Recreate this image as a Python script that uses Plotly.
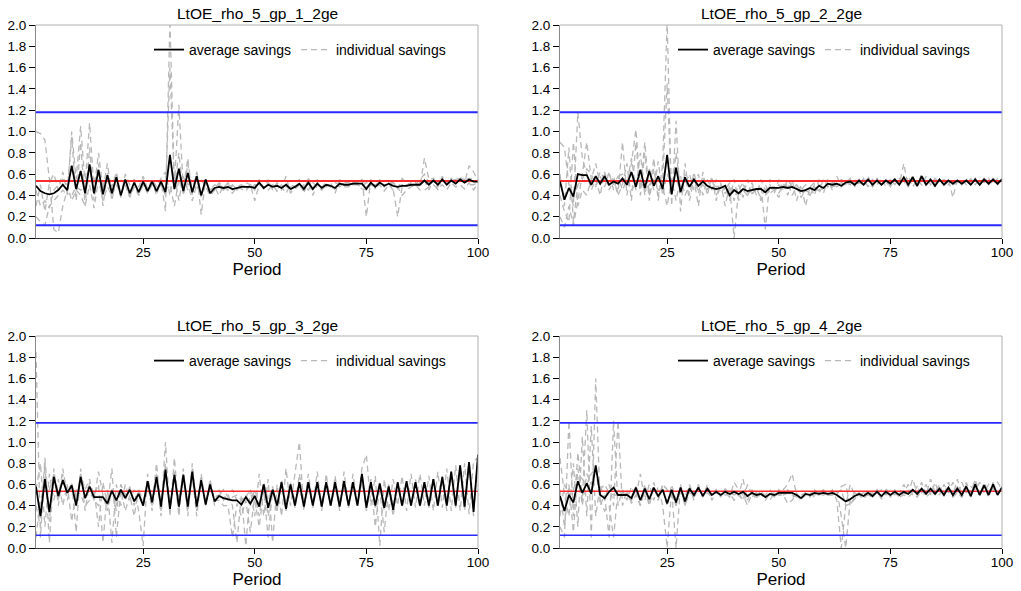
import plotly.graph_objects as go

# ---------------------------------------------------------------- data
periods = list(range(1, 101))

steady_state = 0.535   # red reference level
upper_bound = 1.18     # blue upper band
lower_bound = 0.12     # blue lower band

titles = ["LtOE_rho_5_gp_1_2ge", "LtOE_rho_5_gp_2_2ge",
          "LtOE_rho_5_gp_3_2ge", "LtOE_rho_5_gp_4_2ge"]

x_ticks = [25, 50, 75, 100]
y_ticks = [0.0, 0.2, 0.4, 0.6, 0.8, 1.0, 1.2, 1.4, 1.6, 1.8, 2.0]

# group 1
avg_gp1 = [0.49, 0.44, 0.42, 0.41, 0.42, 0.45, 0.50, 0.45, 0.68, 0.46,
           0.63, 0.42, 0.69, 0.42, 0.64, 0.41, 0.59, 0.42, 0.57, 0.40,
           0.55, 0.42, 0.52, 0.43, 0.53, 0.44, 0.53, 0.44, 0.53, 0.43,
           0.78, 0.46, 0.65, 0.44, 0.61, 0.43, 0.58, 0.40, 0.55, 0.42,
           0.47, 0.48, 0.47, 0.48, 0.46, 0.47, 0.48, 0.48, 0.48, 0.47,
           0.52, 0.47, 0.50, 0.48, 0.49, 0.47, 0.50, 0.46, 0.48, 0.51,
           0.46, 0.52, 0.46, 0.51, 0.47, 0.50, 0.49, 0.47, 0.51, 0.50,
           0.50, 0.51, 0.51, 0.51, 0.46, 0.52, 0.48, 0.52, 0.49, 0.51,
           0.49, 0.48, 0.49, 0.49, 0.50, 0.50, 0.50, 0.54, 0.50, 0.54,
           0.50, 0.55, 0.50, 0.54, 0.51, 0.55, 0.52, 0.55, 0.53, 0.53]
ind_gp1_a = [1.00, 0.98, 0.92, 0.55, 0.08, 0.05, 0.30, 0.45, 0.95, 0.35,
             0.90, 0.30, 0.85, 0.35, 0.70, 0.30, 0.62, 0.35, 0.58, 0.38,
             0.55, 0.40, 0.52, 0.40, 0.55, 0.42, 0.54, 0.40, 0.55, 0.25,
             2.05, 0.45, 0.80, 0.40, 0.70, 0.42, 0.62, 0.22, 0.55, 0.40,
             0.45, 0.50, 0.47, 0.52, 0.45, 0.48, 0.50, 0.46, 0.50, 0.45,
             0.55, 0.46, 0.52, 0.48, 0.50, 0.45, 0.52, 0.44, 0.50, 0.55,
             0.44, 0.56, 0.45, 0.52, 0.46, 0.50, 0.50, 0.45, 0.52, 0.50,
             0.50, 0.52, 0.52, 0.55, 0.20, 0.55, 0.46, 0.55, 0.48, 0.52,
             0.46, 0.20, 0.48, 0.50, 0.50, 0.52, 0.48, 0.75, 0.55, 0.56,
             0.48, 0.58, 0.50, 0.56, 0.50, 0.58, 0.52, 0.68, 0.62, 0.54]
ind_gp1_b = [0.20, 0.15, 0.12, 0.30, 0.35, 0.40, 0.45, 0.40, 1.00, 0.55,
             1.05, 0.50, 1.08, 0.45, 0.80, 0.45, 0.70, 0.40, 0.60, 0.40,
             0.55, 0.38, 0.52, 0.42, 0.50, 0.45, 0.52, 0.45, 0.50, 0.40,
             1.60, 0.50, 1.25, 0.45, 0.75, 0.40, 0.62, 0.38, 0.55, 0.45,
             0.50, 0.48, 0.45, 0.50, 0.48, 0.45, 0.50, 0.48, 0.46, 0.50,
             0.50, 0.48, 0.48, 0.50, 0.46, 0.50, 0.48, 0.48, 0.46, 0.50,
             0.48, 0.50, 0.46, 0.55, 0.48, 0.52, 0.48, 0.50, 0.48, 0.52,
             0.52, 0.50, 0.50, 0.48, 0.52, 0.50, 0.50, 0.52, 0.50, 0.50,
             0.52, 0.48, 0.50, 0.48, 0.52, 0.50, 0.55, 0.60, 0.52, 0.55,
             0.52, 0.55, 0.52, 0.55, 0.52, 0.56, 0.54, 0.56, 0.55, 0.53]
ind_gp1_c = [0.45, 0.30, 0.35, 0.28, 0.45, 0.50, 0.55, 0.50, 0.35, 0.45,
             0.40, 0.30, 0.50, 0.28, 0.55, 0.35, 0.48, 0.40, 0.50, 0.42,
             0.50, 0.38, 0.48, 0.40, 0.50, 0.42, 0.50, 0.44, 0.52, 0.45,
             0.50, 0.30, 0.55, 0.42, 0.52, 0.35, 0.50, 0.40, 0.52, 0.45,
             0.48, 0.40, 0.50, 0.45, 0.42, 0.48, 0.46, 0.44, 0.50, 0.35,
             0.50, 0.48, 0.45, 0.50, 0.44, 0.48, 0.42, 0.50, 0.48, 0.46,
             0.50, 0.45, 0.52, 0.48, 0.45, 0.50, 0.48, 0.52, 0.50, 0.48,
             0.48, 0.52, 0.50, 0.46, 0.45, 0.50, 0.48, 0.50, 0.44, 0.50,
             0.45, 0.48, 0.40, 0.45, 0.48, 0.50, 0.45, 0.45, 0.48, 0.50,
             0.46, 0.50, 0.45, 0.52, 0.48, 0.50, 0.46, 0.52, 0.45, 0.52]
ind_gp1_d = [0.30, 0.50, 0.25, 0.52, 0.60, 0.45, 0.62, 0.42, 0.40, 0.48,
             0.45, 0.48, 0.55, 0.55, 0.60, 0.50, 0.58, 0.48, 0.62, 0.40,
             0.60, 0.50, 0.55, 0.48, 0.58, 0.46, 0.55, 0.48, 0.56, 0.62,
             0.40, 0.60, 0.35, 0.58, 0.45, 0.55, 0.45, 0.55, 0.48, 0.40,
             0.46, 0.52, 0.48, 0.45, 0.50, 0.46, 0.48, 0.52, 0.50, 0.48,
             0.52, 0.46, 0.55, 0.45, 0.52, 0.46, 0.58, 0.42, 0.48, 0.52,
             0.42, 0.56, 0.40, 0.50, 0.48, 0.48, 0.52, 0.42, 0.55, 0.50,
             0.50, 0.50, 0.52, 0.55, 0.48, 0.52, 0.48, 0.52, 0.54, 0.52,
             0.52, 0.46, 0.56, 0.52, 0.50, 0.48, 0.52, 0.55, 0.45, 0.55,
             0.45, 0.56, 0.52, 0.54, 0.55, 0.56, 0.55, 0.50, 0.50, 0.52]

# group 2
avg_gp2 = [0.53, 0.36, 0.47, 0.39, 0.60, 0.59, 0.59, 0.50, 0.58, 0.51,
           0.58, 0.50, 0.53, 0.51, 0.56, 0.50, 0.62, 0.48, 0.64, 0.47,
           0.63, 0.49, 0.58, 0.46, 0.78, 0.41, 0.66, 0.43, 0.57, 0.48,
           0.55, 0.49, 0.53, 0.49, 0.47, 0.46, 0.47, 0.49, 0.40, 0.45,
           0.42, 0.46, 0.44, 0.45, 0.46, 0.46, 0.43, 0.47, 0.47, 0.47,
           0.48, 0.47, 0.48, 0.46, 0.44, 0.45, 0.47, 0.45, 0.49, 0.47,
           0.51, 0.50, 0.51, 0.49, 0.52, 0.53, 0.50, 0.54, 0.50, 0.55,
           0.50, 0.54, 0.50, 0.54, 0.51, 0.55, 0.50, 0.57, 0.50, 0.57,
           0.49, 0.58, 0.50, 0.55, 0.49, 0.55, 0.50, 0.54, 0.51, 0.54,
           0.51, 0.54, 0.50, 0.55, 0.50, 0.55, 0.51, 0.55, 0.51, 0.55]
ind_gp2_a = [0.90, 0.85, 0.50, 0.30, 1.18, 0.75, 0.60, 0.45, 0.55, 0.40,
             0.62, 0.48, 0.58, 0.42, 0.90, 0.40, 0.70, 1.02, 0.45, 0.90,
             0.40, 0.75, 0.35, 0.70, 2.05, 0.30, 1.10, 0.25, 0.70, 0.40,
             0.62, 0.42, 0.58, 0.45, 0.55, 0.40, 0.50, 0.42, 0.48, 0.00,
             0.45, 0.52, 0.40, 0.48, 0.42, 0.50, 0.08, 0.55, 0.45, 0.50,
             0.45, 0.52, 0.40, 0.48, 0.38, 0.45, 0.42, 0.50, 0.44, 0.55,
             0.48, 0.52, 0.50, 0.55, 0.52, 0.56, 0.48, 0.55, 0.50, 0.58,
             0.48, 0.56, 0.50, 0.55, 0.52, 0.56, 0.50, 0.70, 0.48, 0.58,
             0.48, 0.60, 0.50, 0.56, 0.48, 0.55, 0.50, 0.55, 0.38, 0.55,
             0.50, 0.55, 0.52, 0.56, 0.50, 0.57, 0.52, 0.55, 0.52, 0.56]
ind_gp2_b = [0.20, 0.10, 0.30, 0.12, 0.35, 0.60, 0.90, 0.55, 0.70, 0.50,
             0.60, 0.45, 0.55, 0.40, 0.50, 0.70, 0.35, 0.90, 0.40, 0.80,
             0.35, 0.65, 0.40, 0.55, 1.45, 0.40, 0.80, 0.45, 0.60, 0.35,
             0.55, 0.30, 0.62, 0.40, 0.58, 0.35, 0.52, 0.30, 0.50, 0.35,
             0.50, 0.38, 0.55, 0.40, 0.48, 0.35, 0.50, 0.42, 0.45, 0.38,
             0.52, 0.40, 0.55, 0.35, 0.50, 0.30, 0.48, 0.40, 0.55, 0.42,
             0.55, 0.45, 0.58, 0.48, 0.52, 0.50, 0.55, 0.50, 0.56, 0.48,
             0.55, 0.50, 0.56, 0.48, 0.55, 0.50, 0.56, 0.50, 0.58, 0.48,
             0.55, 0.50, 0.58, 0.50, 0.56, 0.52, 0.55, 0.50, 0.55, 0.52,
             0.55, 0.50, 0.56, 0.50, 0.55, 0.52, 0.56, 0.50, 0.56, 0.54]
ind_gp2_c = [0.60, 0.30, 0.85, 0.15, 0.50, 0.55, 0.65, 0.60, 0.50, 0.58,
             0.48, 0.62, 0.45, 0.58, 0.60, 0.50, 0.75, 0.45, 0.80, 0.40,
             0.65, 0.45, 0.72, 0.40, 0.60, 0.50, 0.55, 0.45, 0.50, 0.60,
             0.45, 0.60, 0.40, 0.55, 0.45, 0.55, 0.42, 0.48, 0.35, 0.55,
             0.35, 0.50, 0.42, 0.52, 0.40, 0.55, 0.45, 0.50, 0.42, 0.55,
             0.45, 0.55, 0.48, 0.50, 0.45, 0.50, 0.48, 0.52, 0.50, 0.45,
             0.52, 0.48, 0.50, 0.52, 0.55, 0.50, 0.52, 0.55, 0.50, 0.52,
             0.52, 0.55, 0.50, 0.52, 0.50, 0.54, 0.52, 0.55, 0.50, 0.55,
             0.52, 0.55, 0.50, 0.54, 0.52, 0.55, 0.52, 0.54, 0.52, 0.54,
             0.52, 0.55, 0.50, 0.56, 0.52, 0.55, 0.50, 0.56, 0.52, 0.55]
ind_gp2_d = [0.40, 0.25, 0.15, 0.90, 0.30, 0.45, 0.40, 0.55, 0.48, 0.62,
             0.55, 0.60, 0.50, 0.58, 0.45, 0.55, 0.45, 0.50, 0.55, 0.45,
             0.50, 0.55, 0.45, 0.48, 0.30, 0.55, 0.35, 0.58, 0.40, 0.50,
             0.52, 0.45, 0.50, 0.45, 0.52, 0.48, 0.50, 0.45, 0.52, 0.40,
             0.42, 0.45, 0.40, 0.42, 0.45, 0.38, 0.40, 0.45, 0.48, 0.42,
             0.50, 0.48, 0.46, 0.50, 0.40, 0.45, 0.40, 0.48, 0.42, 0.50,
             0.50, 0.52, 0.48, 0.52, 0.50, 0.54, 0.50, 0.52, 0.50, 0.55,
             0.48, 0.55, 0.50, 0.54, 0.48, 0.55, 0.50, 0.55, 0.48, 0.58,
             0.48, 0.56, 0.50, 0.54, 0.50, 0.55, 0.50, 0.53, 0.50, 0.52,
             0.50, 0.54, 0.50, 0.55, 0.50, 0.56, 0.52, 0.55, 0.50, 0.53]

# group 3
avg_gp3 = [0.58, 0.30, 0.65, 0.34, 0.67, 0.49, 0.64, 0.52, 0.59, 0.40,
           0.67, 0.47, 0.58, 0.48, 0.48, 0.48, 0.42, 0.54, 0.45, 0.55,
           0.47, 0.55, 0.44, 0.51, 0.40, 0.63, 0.43, 0.67, 0.39, 0.74,
           0.37, 0.69, 0.39, 0.69, 0.39, 0.72, 0.39, 0.64, 0.41, 0.60,
           0.44, 0.49, 0.47, 0.46, 0.45, 0.45, 0.41, 0.48, 0.42, 0.49,
           0.39, 0.60, 0.38, 0.55, 0.40, 0.62, 0.37, 0.60, 0.40, 0.62,
           0.39, 0.62, 0.40, 0.62, 0.39, 0.62, 0.40, 0.62, 0.39, 0.63,
           0.40, 0.62, 0.40, 0.70, 0.38, 0.62, 0.40, 0.61, 0.38, 0.58,
           0.36, 0.62, 0.40, 0.63, 0.40, 0.62, 0.40, 0.62, 0.40, 0.65,
           0.40, 0.67, 0.40, 0.72, 0.40, 0.78, 0.39, 0.81, 0.34, 0.88]
ind_gp3_a = [1.85, 0.10, 0.80, 0.05, 0.75, 0.40, 0.70, 0.45, 0.62, 0.15,
             0.75, 0.35, 0.62, 0.50, 0.60, 0.05, 0.55, 0.05, 0.60, 0.40,
             0.60, 0.45, 0.55, 0.35, 0.02, 0.70, 0.40, 0.80, 0.35, 1.00,
             0.30, 0.85, 0.35, 0.75, 0.30, 0.80, 0.35, 0.70, 0.40, 0.65,
             0.40, 0.55, 0.45, 0.50, 0.40, 0.05, 0.50, 0.02, 0.55, 0.30,
             0.70, 0.30, 0.65, 0.05, 0.60, 0.30, 0.75, 0.40, 0.70, 1.00,
             0.35, 0.70, 0.40, 0.72, 0.35, 0.70, 0.40, 0.68, 0.35, 0.72,
             0.38, 0.70, 0.40, 0.75, 0.88, 0.40, 0.68, 0.02, 0.65, 0.35,
             0.65, 0.40, 0.68, 0.35, 0.70, 0.38, 0.70, 0.40, 0.68, 0.35,
             0.72, 0.38, 0.75, 0.35, 0.78, 0.35, 0.80, 0.32, 0.82, 0.85]
ind_gp3_b = [0.10, 0.45, 0.60, 0.55, 0.70, 0.50, 0.65, 0.55, 0.60, 0.50,
             0.62, 0.55, 0.58, 0.45, 0.40, 0.50, 0.35, 0.55, 0.40, 0.60,
             0.45, 0.58, 0.40, 0.55, 0.45, 0.58, 0.45, 0.62, 0.42, 0.70,
             0.42, 0.65, 0.45, 0.62, 0.40, 0.68, 0.42, 0.60, 0.45, 0.58,
             0.48, 0.50, 0.50, 0.45, 0.48, 0.50, 0.45, 0.50, 0.40, 0.55,
             0.42, 0.58, 0.30, 0.55, 0.40, 0.62, 0.42, 0.60, 0.45, 0.55,
             0.42, 0.60, 0.42, 0.58, 0.45, 0.60, 0.42, 0.60, 0.45, 0.58,
             0.42, 0.60, 0.42, 0.62, 0.40, 0.58, 0.42, 0.55, 0.15, 0.58,
             0.40, 0.60, 0.42, 0.62, 0.42, 0.60, 0.42, 0.62, 0.45, 0.65,
             0.42, 0.65, 0.45, 0.68, 0.42, 0.72, 0.42, 0.75, 0.40, 0.80]
ind_gp3_c = [0.55, 0.80, 0.20, 0.70, 0.45, 0.65, 0.40, 0.60, 0.25, 0.55,
             0.50, 0.40, 0.45, 0.55, 0.20, 0.62, 0.40, 0.75, 0.10, 0.55,
             0.35, 0.50, 0.30, 0.55, 0.40, 0.62, 0.35, 0.70, 0.30, 0.80,
             0.35, 0.72, 0.30, 0.70, 0.35, 0.68, 0.30, 0.65, 0.40, 0.62,
             0.45, 0.45, 0.40, 0.40, 0.10, 0.42, 0.30, 0.45, 0.15, 0.50,
             0.30, 0.62, 0.45, 0.58, 0.35, 0.65, 0.35, 0.62, 0.38, 0.70,
             0.40, 0.62, 0.38, 0.60, 0.40, 0.62, 0.40, 0.65, 0.40, 0.60,
             0.40, 0.62, 0.40, 0.68, 0.35, 0.62, 0.20, 0.60, 0.35, 0.60,
             0.38, 0.60, 0.40, 0.62, 0.40, 0.60, 0.40, 0.62, 0.38, 0.65,
             0.40, 0.68, 0.35, 0.72, 0.38, 0.78, 0.35, 0.82, 0.30, 0.90]
ind_gp3_d = [0.40, 0.20, 0.85, 0.25, 0.70, 0.45, 0.75, 0.50, 0.60, 0.45,
             0.70, 0.55, 0.65, 0.45, 0.72, 0.50, 0.45, 0.55, 0.35, 0.60,
             0.50, 0.55, 0.45, 0.50, 0.40, 0.65, 0.45, 0.60, 0.45, 0.68,
             0.40, 0.70, 0.45, 0.70, 0.40, 0.75, 0.40, 0.62, 0.42, 0.60,
             0.45, 0.50, 0.55, 0.48, 0.55, 0.45, 0.40, 0.48, 0.55, 0.45,
             0.20, 0.55, 0.10, 0.55, 0.35, 0.62, 0.35, 0.58, 0.40, 0.62,
             0.40, 0.58, 0.42, 0.62, 0.38, 0.60, 0.40, 0.58, 0.40, 0.62,
             0.40, 0.60, 0.40, 0.70, 0.40, 0.65, 0.38, 0.60, 0.40, 0.58,
             0.30, 0.62, 0.38, 0.60, 0.40, 0.65, 0.38, 0.62, 0.40, 0.62,
             0.38, 0.65, 0.40, 0.70, 0.40, 0.75, 0.38, 0.80, 0.35, 0.88]

# group 4
avg_gp4 = [0.49, 0.35, 0.50, 0.43, 0.63, 0.52, 0.61, 0.51, 0.78, 0.50,
           0.47, 0.53, 0.57, 0.50, 0.50, 0.50, 0.47, 0.57, 0.45, 0.56,
           0.46, 0.57, 0.49, 0.55, 0.42, 0.55, 0.43, 0.57, 0.44, 0.56,
           0.50, 0.57, 0.49, 0.56, 0.50, 0.53, 0.50, 0.53, 0.51, 0.53,
           0.51, 0.53, 0.49, 0.52, 0.50, 0.51, 0.48, 0.51, 0.50, 0.52,
           0.52, 0.52, 0.52, 0.50, 0.47, 0.51, 0.50, 0.52, 0.51, 0.52,
           0.51, 0.52, 0.50, 0.47, 0.44, 0.46, 0.49, 0.51, 0.49, 0.52,
           0.49, 0.53, 0.49, 0.53, 0.50, 0.53, 0.50, 0.53, 0.51, 0.55,
           0.51, 0.56, 0.51, 0.56, 0.51, 0.56, 0.50, 0.57, 0.50, 0.56,
           0.50, 0.58, 0.49, 0.60, 0.50, 0.59, 0.50, 0.60, 0.50, 0.57]
ind_gp4_a = [0.20, 0.10, 1.20, 0.30, 0.90, 0.45, 1.30, 0.10, 1.60, 0.40,
             0.50, 0.10, 1.20, 0.40, 0.55, 0.45, 0.58, 0.48, 0.70, 0.45,
             0.60, 0.45, 0.58, 0.40, 0.00, 0.55, 0.00, 0.60, 0.40, 0.58,
             0.45, 0.60, 0.48, 0.58, 0.50, 0.55, 0.48, 0.56, 0.50, 0.55,
             0.50, 0.65, 0.45, 0.55, 0.48, 0.52, 0.50, 0.55, 0.48, 0.52,
             0.55, 0.60, 0.70, 0.50, 0.45, 0.52, 0.50, 0.55, 0.52, 0.55,
             0.50, 0.55, 0.45, 0.00, 0.40, 0.60, 0.50, 0.52, 0.48, 0.55,
             0.50, 0.55, 0.48, 0.56, 0.50, 0.55, 0.50, 0.60, 0.52, 0.65,
             0.52, 0.62, 0.50, 0.65, 0.52, 0.60, 0.50, 0.62, 0.50, 0.65,
             0.50, 0.62, 0.52, 0.65, 0.50, 0.62, 0.52, 0.60, 0.50, 0.58]
ind_gp4_b = [0.85, 0.50, 0.30, 0.80, 0.20, 1.05, 0.30, 1.15, 0.30, 0.60,
             0.45, 0.60, 0.40, 1.20, 0.40, 0.55, 0.42, 0.50, 0.40, 0.60,
             0.40, 0.62, 0.45, 0.60, 0.55, 0.50, 0.40, 0.55, 0.48, 0.60,
             0.50, 0.55, 0.50, 0.52, 0.48, 0.55, 0.50, 0.52, 0.48, 0.62,
             0.55, 0.50, 0.40, 0.52, 0.46, 0.55, 0.45, 0.52, 0.48, 0.55,
             0.50, 0.52, 0.50, 0.48, 0.50, 0.52, 0.48, 0.55, 0.50, 0.50,
             0.52, 0.50, 0.55, 0.30, 0.00, 0.45, 0.52, 0.50, 0.52, 0.50,
             0.52, 0.50, 0.55, 0.50, 0.52, 0.50, 0.55, 0.52, 0.60, 0.50,
             0.58, 0.52, 0.60, 0.50, 0.62, 0.50, 0.60, 0.52, 0.62, 0.50,
             0.62, 0.52, 0.58, 0.55, 0.62, 0.52, 0.60, 0.55, 0.62, 0.55]
ind_gp4_c = [0.55, 0.20, 0.60, 0.15, 0.75, 0.40, 0.70, 0.60, 0.75, 0.55,
             0.60, 0.52, 0.50, 0.50, 0.52, 0.48, 0.45, 0.55, 0.45, 0.58,
             0.45, 0.55, 0.48, 0.58, 0.40, 0.60, 0.45, 0.58, 0.42, 0.56,
             0.48, 0.58, 0.50, 0.55, 0.50, 0.52, 0.50, 0.55, 0.52, 0.50,
             0.52, 0.45, 0.50, 0.48, 0.52, 0.50, 0.48, 0.50, 0.52, 0.50,
             0.52, 0.55, 0.48, 0.50, 0.48, 0.50, 0.52, 0.50, 0.52, 0.55,
             0.50, 0.52, 0.50, 0.58, 0.60, 0.40, 0.48, 0.50, 0.46, 0.52,
             0.48, 0.52, 0.48, 0.52, 0.50, 0.52, 0.48, 0.52, 0.50, 0.55,
             0.50, 0.55, 0.52, 0.55, 0.50, 0.58, 0.50, 0.55, 0.48, 0.58,
             0.50, 0.60, 0.48, 0.62, 0.50, 0.58, 0.48, 0.62, 0.50, 0.58]
ind_gp4_d = [0.30, 0.60, 0.50, 0.55, 0.70, 0.65, 0.60, 0.70, 0.75, 0.45,
             0.35, 0.40, 0.10, 0.55, 0.50, 0.52, 0.45, 0.58, 0.40, 0.55,
             0.40, 0.58, 0.45, 0.60, 0.55, 0.52, 0.40, 0.55, 0.40, 0.52,
             0.50, 0.56, 0.48, 0.60, 0.45, 0.52, 0.50, 0.50, 0.52, 0.45,
             0.50, 0.45, 0.60, 0.50, 0.52, 0.48, 0.50, 0.45, 0.52, 0.50,
             0.50, 0.42, 0.45, 0.52, 0.46, 0.50, 0.52, 0.48, 0.50, 0.52,
             0.50, 0.50, 0.52, 0.55, 0.40, 0.42, 0.46, 0.52, 0.48, 0.50,
             0.48, 0.54, 0.46, 0.55, 0.48, 0.54, 0.48, 0.50, 0.48, 0.52,
             0.48, 0.55, 0.48, 0.52, 0.50, 0.56, 0.50, 0.55, 0.48, 0.52,
             0.48, 0.55, 0.48, 0.58, 0.50, 0.60, 0.48, 0.58, 0.50, 0.56]

groups = [
    (avg_gp1, [ind_gp1_a, ind_gp1_b, ind_gp1_c, ind_gp1_d]),
    (avg_gp2, [ind_gp2_a, ind_gp2_b, ind_gp2_c, ind_gp2_d]),
    (avg_gp3, [ind_gp3_a, ind_gp3_b, ind_gp3_c, ind_gp3_d]),
    (avg_gp4, [ind_gp4_a, ind_gp4_b, ind_gp4_c, ind_gp4_d]),
]

# ---------------------------------------------------------------- layout
W, H = 1021, 591
FONT = "Liberation Sans, Arial, Helvetica, sans-serif"

# panel boxes in pixels: (left, right, top, bottom)
boxes = [(36, 478, 25, 238), (560, 1002, 25, 238),
         (36, 478, 336, 548), (560, 1002, 336, 548)]

fig = go.Figure()
layout = dict(
    width=W, height=H, autosize=False,
    margin=dict(l=0, r=0, t=0, b=0, pad=0),
    paper_bgcolor="white", plot_bgcolor="white",
    font=dict(family=FONT, color="black", size=14),
    annotations=[], shapes=[],
)

for i, ((avg, inds), (l, r, t, b)) in enumerate(zip(groups, boxes)):
    n = i + 1
    xa = "x" if n == 1 else f"x{n}"
    ya = "y" if n == 1 else f"y{n}"
    leg = "legend" if n == 1 else f"legend{n}"

    # individual paths
    for k, series in enumerate(inds):
        fig.add_trace(go.Scatter(
            x=periods, y=series, mode="lines", xaxis=xa, yaxis=ya,
            line=dict(color="#b8b8b8", width=1.3, dash="6px,4px"),
            name="individual savings", legend=leg, showlegend=(k == 0),
            legendrank=2, hoverinfo="skip"))

    lw = 2 if n <= 2 else 1.6
    # reference levels
    for level, colour in ((upper_bound, "#2a2aff"), (lower_bound, "#2a2aff"),
                          (steady_state, "#ff2a2a")):
        fig.add_trace(go.Scatter(
            x=[periods[0], periods[-1]], y=[level, level], mode="lines",
            xaxis=xa, yaxis=ya, line=dict(color=colour, width=lw),
            showlegend=False, hoverinfo="skip"))

    # group average
    fig.add_trace(go.Scatter(
        x=periods, y=avg, mode="lines", xaxis=xa, yaxis=ya,
        line=dict(color="black", width=1.8),
        name="average savings", legend=leg, showlegend=True, legendrank=1))

    xdom = [l / W, r / W]
    ydom = [1 - b / H, 1 - t / H]
    xkey = "xaxis" if n == 1 else f"xaxis{n}"
    ykey = "yaxis" if n == 1 else f"yaxis{n}"
    layout[xkey] = dict(
        domain=xdom, anchor=ya, range=[periods[0], periods[-1]],
        automargin=False,
        tickmode="array", tickvals=x_ticks, ticks="outside", ticklen=5,
        tickcolor="black", showline=True, linecolor="#333", linewidth=1,
        showgrid=False, zeroline=False, tickfont=dict(size=13.5),
        ticklabelstandoff=-3,
        title=dict(text="Period", font=dict(size=17), standoff=1))
    layout[ykey] = dict(
        domain=ydom, anchor=xa, range=[0, 2], automargin=False,
        tickmode="array", tickvals=y_ticks, tickformat=".1f",
        ticks="outside", ticklen=6, tickcolor="black",
        showline=True, linecolor="#888", linewidth=1,
        showgrid=False, zeroline=False, tickfont=dict(size=13.5))

    # light frame on the top and right edges
    layout["shapes"].append(dict(
        type="path", xref="paper", yref="paper",
        path=f"M {xdom[0]} {ydom[1]} L {xdom[1]} {ydom[1]} L {xdom[1]} {ydom[0]}",
        line=dict(color="#b0b0b0", width=1), layer="above"))

    layout["annotations"].append(dict(
        text=titles[i], xref="paper", yref="paper",
        x=(xdom[0] + xdom[1]) / 2, y=ydom[1] + 11 / H,
        xanchor="center", yanchor="middle", showarrow=False,
        font=dict(size=15.5)))

    layout[leg] = dict(
        orientation="h", x=(l + 113) / W, y=1 - (t + 25) / H,
        xanchor="left", yanchor="middle", bgcolor="rgba(0,0,0,0)",
        font=dict(size=14), itemwidth=30, traceorder="normal")

fig.update_layout(**layout)
fig.write_html("out.html")
